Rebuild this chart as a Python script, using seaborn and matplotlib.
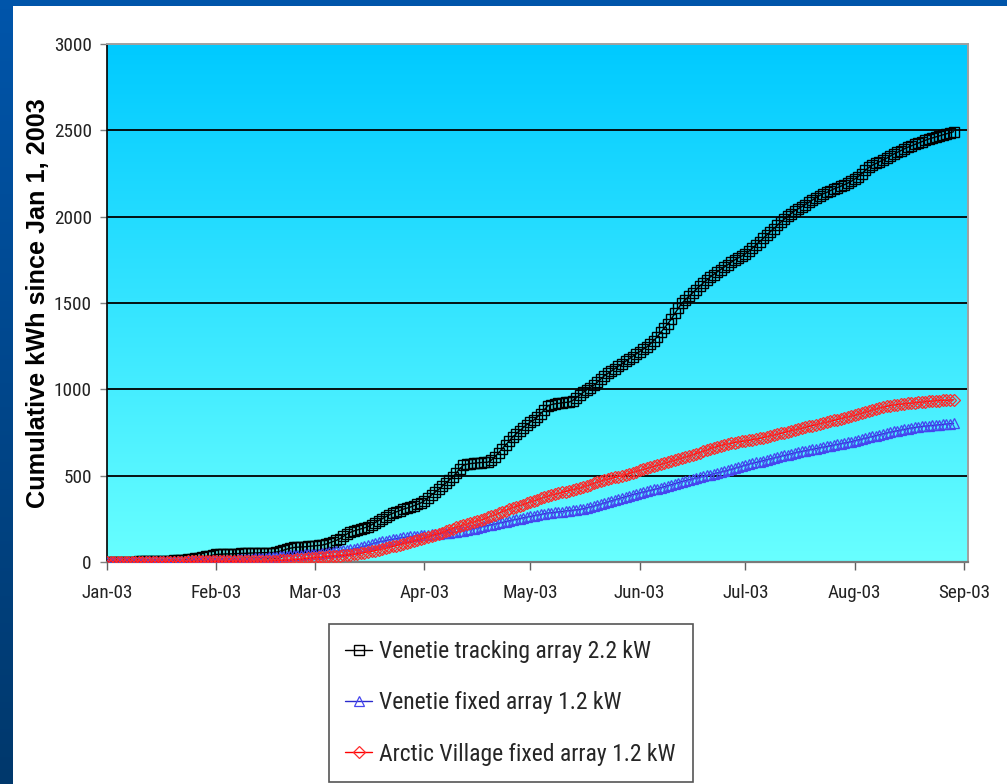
import os
import numpy as np
import pandas as pd
import matplotlib
matplotlib.use("Agg")
import matplotlib.pyplot as plt
import matplotlib.dates as mdates
from matplotlib.patches import Rectangle
from matplotlib import font_manager
import seaborn as sns

# Daily cumulative energy (kWh) since 1 Jan 2003, one value per day from Jan 1 to Aug 29
start_date = "2003-01-01"

tracking_kwh = [
    0, 0, 0, 1, 1, 1, 2, 2, 2, 3,
    3, 4, 4, 5, 5, 6, 6, 7, 8, 9,
    10, 12, 14, 16, 19, 22, 25, 28, 32, 36,
    40, 44, 45, 46, 47, 47, 48, 49, 50, 50,
    51, 52, 52, 53, 54, 54, 55, 55, 57, 62,
    68, 75, 80, 84, 86, 87, 88, 90, 92, 94,
    96, 98, 103, 110, 118, 125, 135, 148, 162, 172,
    180, 186, 192, 198, 205, 215, 228, 240, 250, 262,
    272, 282, 290, 298, 306, 312, 318, 326, 334, 342,
    355, 372, 388, 404, 420, 438, 456, 474, 492, 515,
    540, 560, 566, 570, 572, 574, 576, 577, 578, 590,
    610, 632, 655, 678, 700, 724, 742, 760, 778, 795,
    810, 822, 840, 860, 882, 905, 912, 916, 919, 922,
    924, 926, 935, 950, 966, 982, 996, 1010, 1024, 1040,
    1060, 1078, 1092, 1106, 1120, 1134, 1148, 1162, 1176, 1190,
    1204, 1218, 1232, 1245, 1262, 1282, 1305, 1330, 1355, 1380,
    1408, 1440, 1470, 1500, 1520, 1540, 1558, 1578, 1598, 1615,
    1632, 1650, 1665, 1680, 1694, 1708, 1722, 1736, 1750, 1762,
    1772, 1785, 1800, 1818, 1836, 1855, 1874, 1893, 1912, 1930,
    1950, 1968, 1985, 2002, 2018, 2034, 2046, 2058, 2070, 2083,
    2096, 2110, 2122, 2132, 2140, 2150, 2160, 2168, 2176, 2185,
    2194, 2205, 2218, 2232, 2250, 2268, 2285, 2298, 2308, 2318,
    2328, 2338, 2350, 2362, 2372, 2382, 2392, 2402, 2410, 2418,
    2426, 2434, 2442, 2450, 2456, 2462, 2468, 2474, 2480, 2486,
    2492,
]

venetie_fixed_kwh = [
    0, 0, 0, 0, 1, 1, 1, 1, 2, 2,
    2, 3, 3, 3, 4, 4, 4, 5, 5, 5,
    5, 6, 6, 6, 7, 7, 7, 8, 8, 8,
    9, 9, 10, 11, 12, 13, 14, 15, 16, 17,
    18, 20, 22, 24, 25, 26, 27, 28, 30, 32,
    34, 36, 38, 40, 42, 43, 44, 45, 46, 47,
    48, 50, 53, 56, 59, 62, 65, 68, 70, 74,
    78, 82, 86, 92, 98, 104, 110, 116, 120, 124,
    128, 132, 136, 139, 142, 145, 148, 150, 152, 154,
    156, 158, 160, 162, 164, 166, 168, 170, 172, 174,
    178, 182, 186, 190, 194, 198, 203, 208, 212, 216,
    220, 225, 229, 234, 238, 243, 247, 251, 256, 260,
    264, 268, 272, 276, 280, 284, 286, 288, 290, 292,
    296, 298, 300, 302, 305, 309, 314, 319, 324, 330,
    336, 342, 348, 354, 360, 366, 372, 378, 384, 390,
    395, 400, 405, 410, 415, 420, 425, 430, 436, 442,
    448, 454, 460, 466, 471, 476, 481, 486, 491, 496,
    501, 506, 511, 516, 521, 526, 531, 537, 543, 549,
    555, 561, 567, 572, 577, 582, 587, 592, 597, 602,
    607, 612, 617, 622, 627, 632, 637, 641, 645, 649,
    653, 657, 661, 665, 669, 673, 677, 681, 685, 689,
    693, 697, 702, 707, 712, 717, 722, 727, 732, 737,
    742, 747, 752, 756, 760, 764, 768, 772, 776, 779,
    782, 785, 787, 789, 791, 793, 795, 797, 799, 801,
    803,
]

arctic_village_kwh = [
    0, 0, 0, 0, 0, 0, 0, 0, 1, 1,
    1, 1, 1, 1, 1, 1, 2, 2, 2, 2,
    2, 2, 2, 3, 3, 3, 3, 3, 3, 4,
    4, 4, 4, 4, 4, 4, 5, 5, 5, 5,
    5, 5, 5, 5, 5, 5, 6, 7, 8, 9,
    10, 11, 12, 13, 15, 17, 19, 21, 23, 25,
    27, 29, 31, 33, 35, 36, 37, 38, 40, 43,
    46, 49, 52, 55, 58, 62, 66, 70, 75, 80,
    85, 90, 95, 100, 105, 110, 116, 122, 128, 134,
    140, 146, 152, 158, 164, 170, 178, 186, 194, 202,
    208, 214, 220, 226, 232, 238, 243, 250, 258, 266,
    274, 282, 290, 298, 306, 314, 320, 326, 333, 340,
    347, 354, 361, 368, 375, 382, 388, 393, 398, 403,
    408, 413, 418, 423, 428, 434, 441, 448, 455, 462,
    469, 475, 480, 485, 490, 495, 500, 506, 512, 518,
    524, 530, 536, 542, 548, 554, 560, 566, 572, 578,
    584, 590, 596, 602, 608, 614, 620, 627, 634, 641,
    648, 655, 662, 668, 674, 679, 684, 688, 692, 695,
    698, 701, 704, 708, 712, 716, 720, 725, 730, 735,
    740, 745, 750, 755, 760, 765, 770, 775, 780, 785,
    790, 795, 800, 805, 810, 815, 820, 825, 830, 835,
    840, 845, 850, 856, 862, 868, 874, 880, 886, 892,
    897, 902, 906, 909, 912, 914, 916, 918, 920, 922,
    924, 926, 928, 930, 932, 934, 935, 936, 937, 938,
    939,
]

series_labels = [
    "Venetie tracking array 2.2 kW",
    "Venetie fixed array 1.2 kW",
    "Arctic Village fixed array 1.2 kW",
]
y_ticks = [0, 500, 1000, 1500, 2000, 2500, 3000]
month_ticks = ["2003-01-01", "2003-02-01", "2003-03-01", "2003-04-01", "2003-05-01",
               "2003-06-01", "2003-07-01", "2003-08-01", "2003-09-01"]
y_title = "Cumulative kWh since Jan 1, 2003"

sns.set_theme(style="white")
plt.rcParams["font.family"] = ["Liberation Sans", "DejaVu Sans"]


def narrow_font():
    """Return a condensed sans-serif face if one is installed, else None."""
    files = [f.fname for f in font_manager.fontManager.ttflist]
    wanted = ["LiberationSansNarrow-Regular", "Roboto_Condensed-Regular",
              "RobotoCondensed-Regular", "NotoSans-Condensed.", "OpenSans_Condensed-Regular",
              "DejaVuSansCondensed."]
    for key in wanted:
        for path in files:
            if key in os.path.basename(path):
                return font_manager.FontProperties(fname=path)
    return None


cond = narrow_font()
if cond is not None:
    tick_fp = cond.copy(); tick_fp.set_size(13.8)
    leg_fp = cond.copy(); leg_fp.set_size(17)
else:
    tick_fp = font_manager.FontProperties(family="Liberation Sans", size=12)
    leg_fp = font_manager.FontProperties(family="Liberation Sans", size=15.5)

W, H = 1007, 784
fig = plt.figure(figsize=(W / 100, H / 100), dpi=100)
fig.patch.set_facecolor("white")

# slide-style blue frame: top band and a shaded strip down the left side
fig.add_artist(Rectangle((0, 1 - 6 / H), 1, 6 / H, transform=fig.transFigure,
                         facecolor="#0055AA", edgecolor="none", zorder=0))
strip = fig.add_axes([0, 0, 13 / W, 1 - 6 / H])
top_c = np.array([0, 85, 170]) / 255
bot_c = np.array([0, 56, 108]) / 255
tt = np.linspace(0, 1, 256)[:, None, None]
strip.imshow(top_c * (1 - tt) + bot_c * tt, aspect="auto", extent=[0, 1, 0, 1])
strip.set_axis_off()

ax = fig.add_axes([107 / W, 1 - 562 / H, 861 / W, 518 / H])

# plot area gradient, deep sky blue at the top to pale cyan at the bottom
grad_top = np.array([0, 202, 255]) / 255
grad_bot = np.array([104, 255, 255]) / 255
ax.imshow(grad_top * (1 - tt) + grad_bot * tt, aspect="auto",
          extent=[0, 1, 0, 1], transform=ax.transAxes, zorder=0)

dates = pd.date_range(start_date, periods=len(tracking_kwh), freq="D")
styles = [
    (tracking_kwh, "#000000", "#000000", "s", 7.8, 1.0),
    (venetie_fixed_kwh, "#2a2acc", "#4646ee", "^", 7.6, 0.9),
    (arctic_village_kwh, "#ff0000", "#ff2a2a", "D", 6.5, 0.9),
]
for (vals, lc, mc, mk, ms, mew), lab in zip(styles, series_labels):
    sns.lineplot(x=dates, y=vals, ax=ax, color=lc, linewidth=1.0, marker=mk,
                 markersize=ms, markerfacecolor="none", markeredgecolor=mc,
                 markeredgewidth=mew, label=lab, zorder=3)

ax.set_xlim(pd.Timestamp("2003-01-01"), pd.Timestamp("2003-01-01") + pd.Timedelta(days=244.1))
ax.set_ylim(0, 3000)
ax.set_yticks(y_ticks)
ax.set_xticks(pd.to_datetime(month_ticks))
ax.xaxis.set_major_formatter(mdates.DateFormatter("%b-%y"))
ax.set_xlabel("")
ax.set_ylabel("")

ax.yaxis.grid(True, color="black", linewidth=1.3, zorder=1)
ax.set_axisbelow(True)
gl = ax.get_ygridlines()
gl[0].set_visible(False)
gl[-1].set_visible(False)

ax.tick_params(axis="y", left=True, direction="out", length=5, width=1,
               color="#808080", pad=6, labelcolor="#222222")
ax.tick_params(axis="x", bottom=True, direction="out", length=6, width=1,
               color="#606060", pad=10, labelcolor="#222222")
for lbl in ax.get_xticklabels() + ax.get_yticklabels():
    lbl.set_fontproperties(tick_fp)

for side, col, lw in [("left", "#000000", 1.2), ("bottom", "#7a7a7a", 1.6),
                      ("top", "#a0a0a0", 1.4), ("right", "#a0a0a0", 1.4)]:
    ax.spines[side].set_visible(True)
    ax.spines[side].set_color(col)
    ax.spines[side].set_linewidth(lw)

fig.text(38 / W, 1 - 303 / H, y_title, rotation=90, ha="center", va="center",
         fontsize=18.2, fontweight="bold", color="black",
         family=["Liberation Sans", "DejaVu Sans"])

handles, labels = ax.get_legend_handles_labels()
ax.get_legend().remove()
leg = fig.legend(handles, labels, loc="upper left",
                 bbox_to_anchor=(329 / W, 0, 364 / W, 1 - 624 / H),
                 bbox_transform=fig.transFigure, mode="expand",
                 prop=leg_fp, frameon=True, fancybox=False, shadow=False,
                 borderpad=0.68, labelspacing=1.2, handlelength=1.15,
                 handletextpad=0.3, borderaxespad=0)
leg.get_frame().set_edgecolor("#555555")
leg.get_frame().set_linewidth(1.2)
leg.get_frame().set_facecolor("white")
leg.get_frame().set_alpha(1)

fig.savefig("out.png", dpi=100)
